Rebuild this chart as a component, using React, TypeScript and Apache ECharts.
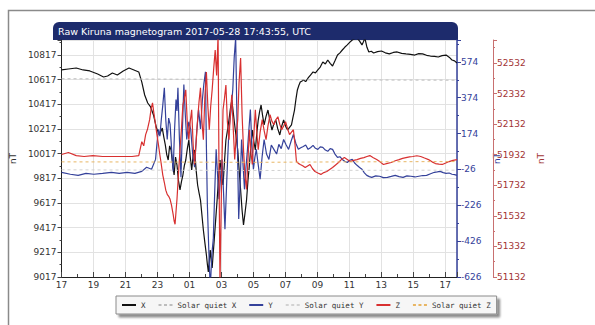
import React, { useEffect, useRef } from "react";
import * as echarts from "echarts";

// time in hours after 2017-05-27 17:00 UTC
const title = "Raw Kiruna magnetogram 2017-05-28 17:43:55, UTC";
const xAxisMaxHours = 24.732;
const startHour = 17;

const leftRange = { min: 9017, max: 10939 };
const yRange = { min: -626, max: 696 };
const zRange = { min: 51132, max: 52682 };

const seriesX: [number, number][] = [
  [0, 10696], [0.43, 10704], [0.92, 10712], [1.35, 10696], [1.77, 10688], [2.26, 10663], [2.63, 10639],
  [2.88, 10647], [3.18, 10671], [3.49, 10655], [3.86, 10688], [4.22, 10712], [4.53, 10696], [4.83, 10680],
  [5.02, 10598], [5.2, 10493], [5.39, 10428], [5.57, 10396], [5.75, 10331], [5.94, 10225], [6.12, 10169],
  [6.3, 10225], [6.4, 10150], [6.49, 10088], [6.58, 10010], [6.67, 9966], [6.76, 10080], [6.85, 10047],
  [6.95, 9930], [7.04, 9844], [7.13, 9990], [7.22, 9925], [7.31, 9800], [7.41, 9723], [7.5, 9790],
  [7.59, 9844], [7.68, 9920], [7.77, 9966], [7.87, 10060], [7.96, 10128], [8.05, 9990], [8.14, 9885],
  [8.23, 10000], [8.32, 10047], [8.42, 9880], [8.51, 9763], [8.6, 9700], [8.69, 9641], [8.78, 9520],
  [8.87, 9398], [8.96, 9300], [9.06, 9195], [9.12, 9120], [9.18, 9058], [9.24, 9150], [9.3, 9236],
  [9.36, 9150], [9.42, 9090], [9.48, 9200], [9.55, 9317], [9.64, 9480], [9.73, 9641], [9.82, 9820],
  [9.91, 9966], [10.0, 9850], [10.1, 9763], [10.19, 9950], [10.28, 10128], [10.37, 10200], [10.47, 10290],
  [10.56, 10380], [10.65, 10452], [10.74, 10350], [10.83, 10250], [10.92, 10150], [11.02, 10047], [11.11, 9880],
  [11.2, 9723], [11.29, 9560], [11.38, 9439], [11.47, 9530], [11.57, 9641], [11.66, 9800], [11.75, 9925],
  [11.84, 10080], [11.93, 10209], [12.02, 10120], [12.12, 10047], [12.21, 10180], [12.3, 10290], [12.39, 10360],
  [12.48, 10412], [12.57, 10330], [12.67, 10250], [12.79, 10320], [12.91, 10371], [13.04, 10280], [13.16, 10209],
  [13.28, 10260], [13.4, 10290], [13.52, 10220], [13.65, 10169], [13.77, 10240], [13.89, 10290], [14.01, 10240],
  [14.14, 10209], [14.26, 10230], [14.38, 10250], [14.47, 10310], [14.57, 10371], [14.66, 10460], [14.75, 10534],
  [14.84, 10570], [14.93, 10598], [15.02, 10605], [15.12, 10615], [15.27, 10602], [15.42, 10631], [15.57, 10655],
  [15.73, 10680], [15.88, 10672], [16.03, 10696], [16.18, 10720], [16.34, 10761], [16.5, 10745], [16.65, 10777],
  [16.8, 10750], [16.95, 10728], [17.1, 10770], [17.26, 10817], [17.41, 10835], [17.56, 10858], [17.71, 10880],
  [17.87, 10899], [18.02, 10920], [18.18, 10939], [18.33, 10950], [18.48, 10955], [18.64, 10930], [18.79, 10899],
  [18.88, 10925], [18.97, 10955], [19.1, 10880], [19.22, 10842], [19.37, 10848], [19.52, 10834], [19.76, 10845],
  [20.01, 10850], [20.25, 10835], [20.5, 10826], [20.75, 10838], [20.99, 10842], [21.27, 10830], [21.54, 10826],
  [21.82, 10822], [22.09, 10817], [22.34, 10828], [22.58, 10826], [22.83, 10815], [23.07, 10809], [23.32, 10806],
  [23.56, 10801], [23.8, 10812], [24.05, 10817], [24.24, 10800], [24.42, 10777], [24.58, 10770], [24.73, 10753],
];

const seriesY: [number, number][] = [
  [0, -42], [0.55, -53], [1.04, -59], [1.53, -48], [2.02, -53], [2.57, -48], [3.12, -42], [3.61, -48],
  [4.1, -42], [4.59, -48], [5.02, -37], [5.32, -14], [5.63, -25], [5.88, 30], [5.97, 120], [6.06, 197],
  [6.15, 160], [6.24, 252], [6.33, 330], [6.43, 430], [6.52, 250], [6.61, 141], [6.7, 260], [6.79, 225],
  [6.88, 90], [6.98, -37], [7.07, 200], [7.16, 364], [7.22, 300], [7.28, 430], [7.37, 150], [7.47, -70],
  [7.56, 200], [7.65, 447], [7.74, 280], [7.83, 141], [7.96, 240], [8.08, 197], [8.2, 60], [8.32, -14],
  [8.45, 180], [8.57, 308], [8.69, 200], [8.81, 364], [8.9, 450], [9.0, 519], [9.06, 100], [9.12, -220],
  [9.2, -450], [9.3, -693], [9.4, -500], [9.49, -415], [9.58, -150], [9.67, 86], [9.76, -60], [9.85, -192],
  [9.95, -60], [10.04, 30], [10.13, -150], [10.22, -359], [10.35, -50], [10.47, 197], [10.6, 300], [10.71, 419],
  [10.8, 600], [10.89, 708], [10.98, 200], [11.08, -303], [11.17, -100], [11.26, 141], [11.35, 0], [11.44, -137],
  [11.53, -20], [11.63, 86], [11.72, 200], [11.81, 308], [11.9, 120], [12.0, -25], [12.09, 40], [12.18, 86],
  [12.3, 0], [12.42, -81], [12.55, 50], [12.67, 141], [12.82, 60], [12.97, 30], [13.12, 110], [13.28, 86],
  [13.45, 60], [13.59, 114], [13.74, 90], [13.89, 141], [14.05, 110], [14.2, 86], [14.35, 130], [14.5, 169],
  [14.65, 120], [14.81, 86], [14.96, 95], [15.12, 102], [15.27, 110], [15.42, 86], [15.57, 95], [15.73, 108],
  [15.88, 92], [16.03, 86], [16.18, 100], [16.34, 97], [16.5, 82], [16.65, 75], [16.8, 90], [16.95, 86],
  [17.1, 60], [17.26, 41], [17.41, 45], [17.56, 30], [17.71, 20], [17.87, 13], [18.02, 25], [18.18, 30],
  [18.33, 10], [18.48, -3], [18.64, -15], [18.79, -25], [18.94, -45], [19.09, -59], [19.25, -66], [19.4, -70],
  [19.65, -62], [19.89, -64], [20.13, -72], [20.38, -70], [20.62, -65], [20.87, -59], [21.11, -66], [21.36, -70],
  [21.6, -62], [21.85, -64], [22.1, -68], [22.34, -64], [22.59, -60], [22.83, -59], [23.08, -50], [23.32, -42],
  [23.5, -40], [23.68, -37], [23.87, -44], [24.05, -48], [24.24, -46], [24.42, -53], [24.58, -55], [24.73, -59],
];

const seriesZ: [number, number][] = [
  [0, 51933], [0.43, 51946], [0.92, 51926], [1.41, 51920], [1.96, 51926], [2.57, 51920], [3.18, 51920],
  [3.79, 51920], [4.41, 51920], [4.83, 51926], [5.02, 52017], [5.14, 51990], [5.26, 52063], [5.38, 52100],
  [5.51, 52161], [5.6, 52230], [5.69, 52271], [5.78, 52200], [5.88, 52128], [5.97, 52060], [6.06, 51998],
  [6.15, 51930], [6.24, 51868], [6.33, 51800], [6.43, 51750], [6.52, 51700], [6.61, 51672], [6.7, 51660],
  [6.79, 51640], [6.88, 51600], [6.98, 51542], [7.04, 51500], [7.1, 51477], [7.16, 51560], [7.22, 51640],
  [7.31, 51800], [7.41, 51965], [7.5, 52100], [7.59, 52258], [7.68, 52300], [7.77, 52356], [7.86, 52150],
  [7.96, 52030], [8.05, 52150], [8.14, 52226], [8.23, 52000], [8.32, 51868], [8.42, 52020], [8.51, 52161],
  [8.6, 52280], [8.69, 52369], [8.78, 52150], [8.87, 52030], [8.96, 52300], [9.06, 52473], [9.15, 52250],
  [9.24, 52095], [9.33, 52250], [9.42, 52356], [9.52, 52500], [9.61, 52616], [9.7, 52450], [9.79, 52714],
  [9.85, 51800], [9.91, 51086], [10.0, 51700], [10.1, 52226], [10.19, 52300], [10.28, 52388], [10.37, 52150],
  [10.47, 52030], [10.56, 52200], [10.65, 52323], [10.74, 52100], [10.83, 51900], [10.92, 52050], [11.02, 52161],
  [11.1, 52400], [11.2, 52564], [11.29, 52200], [11.38, 51965], [11.47, 51800], [11.57, 51705], [11.66, 51900],
  [11.75, 52095], [11.84, 51950], [11.93, 51868], [12.02, 52050], [12.12, 52226], [12.21, 52080], [12.3, 51965],
  [12.42, 52080], [12.55, 52161], [12.67, 52090], [12.79, 52030], [12.91, 52120], [13.04, 52193], [13.16, 52150],
  [13.28, 52128], [13.4, 52160], [13.53, 52180], [13.65, 52130], [13.77, 52095], [13.89, 52120], [14.01, 52148],
  [14.14, 52100], [14.26, 52063], [14.38, 52080], [14.5, 52095], [14.6, 52000], [14.69, 51887], [14.81, 51875],
  [14.93, 51868], [15.08, 51860], [15.24, 51848], [15.39, 51858], [15.54, 51868], [15.7, 51840], [15.85, 51822],
  [16.03, 51812], [16.22, 51803], [16.4, 51815], [16.59, 51822], [16.77, 51835], [16.95, 51848], [17.14, 51865],
  [17.32, 51881], [17.5, 51900], [17.69, 51913], [17.87, 51900], [18.05, 51887], [18.27, 51895], [18.48, 51900],
  [18.7, 51908], [18.91, 51913], [19.1, 51920], [19.28, 51926], [19.5, 51912], [19.71, 51900], [19.92, 51885],
  [20.13, 51868], [20.38, 51875], [20.62, 51881], [20.87, 51892], [21.11, 51900], [21.33, 51908], [21.54, 51913],
  [21.76, 51918], [21.97, 51920], [22.22, 51925], [22.46, 51920], [22.7, 51910], [22.95, 51900], [23.17, 51885],
  [23.38, 51874], [23.6, 51870], [23.81, 51868], [24.03, 51878], [24.24, 51887], [24.48, 51895], [24.73, 51900],
];

const solarQuietX: [number, number][] = [[0, 10625], [6, 10622], [12, 10618], [18, 10615], [24.73, 10613]];
const solarQuietY: [number, number][] = [[0, -28], [6, -30], [12, -32], [18, -31], [24.73, -30]];
const solarQuietZ: [number, number][] = [[0, 51885], [6, 51884], [12, 51882], [18, 51885], [24.73, 51887]];

const legendNames = ["X", "Solar quiet X", "Y", "Solar quiet Y", "Z", "Solar quiet Z"];

const FONT = "DejaVu Sans";
const MONO = "DejaVu Sans Mono";
const BLUE = "#34419a";
const RED = "#d83030";
const DARKRED = "#a23434";
const SOLID_ICON = "path://M0,0h14v2h-14z";
const DASH_ICON = "path://M0,0h3v2h-3z M5.5,0h3v2h-3z M11,0h3v2h-3z";

export default function App() {
  const ref = useRef<HTMLDivElement>(null);
  useEffect(() => {
    if (!ref.current) return;
    const chart = echarts.init(ref.current, null, { renderer: "svg" });
    const labelBase = { fontFamily: FONT, fontSize: 9 };
    const plain = (v: number) => String(v);
    chart.setOption({
      animation: false,
      backgroundColor: "#fff",
      graphic: [
        {
          type: "rect",
          shape: { x: 8.5, y: 10.5, width: 620, height: 340 },
          style: { fill: "none", stroke: "#8a8a8a", lineWidth: 1.5 },
          silent: true,
        },
        {
          type: "rect",
          shape: { x: 53, y: 22, width: 405, height: 18, r: [6, 6, 0, 0] },
          style: { fill: "#1d2b6c" },
          silent: true,
        },
        {
          type: "text",
          x: 58,
          y: 31,
          style: {
            text: title,
            fill: "#ffffff",
            font: `9.5px "${FONT}"`,
            verticalAlign: "middle",
          },
          silent: true,
        },
      ],
      legend: {
        left: 116,
        top: 296,
        padding: [5, 6],
        itemWidth: 14,
        itemHeight: 2,
        itemGap: 13,
        backgroundColor: "#f6f6f6",
        borderColor: "#8a8a8a",
        borderWidth: 1,
        shadowColor: "rgba(0,0,0,0.45)",
        shadowBlur: 2,
        shadowOffsetX: 3,
        shadowOffsetY: 3,
        textStyle: { fontFamily: MONO, fontSize: 7.5, color: "#333" },
        data: legendNames.map((n) => ({ name: n, icon: n.startsWith("Solar") ? DASH_ICON : SOLID_ICON })),
      },
      grid: { left: 53, top: 40, right: 138, bottom: 48, containLabel: false },
      xAxis: {
        type: "value",
        min: 0,
        max: xAxisMaxHours,
        interval: 2,
        axisLine: { onZero: false, lineStyle: { color: "#222" } },
        axisTick: { inside: true, length: 5, lineStyle: { color: "#444" } },
        minorTick: { show: true, splitNumber: 2, length: 3, lineStyle: { color: "#444" } },
        axisLabel: {
          ...labelBase,
          color: "#333",
          margin: 3,
          showMaxLabel: false,
          formatter: (v: number) => String((startHour + Math.round(v)) % 24).padStart(2, "0"),
        },
        splitLine: { show: true, lineStyle: { color: "#e2e2e2", width: 1 } },
      },
      yAxis: [
        {
          type: "value",
          position: "left",
          min: leftRange.min,
          max: leftRange.max,
          interval: 200,
          name: "nT",
          nameLocation: "middle",
          nameGap: 33,
          nameTextStyle: { ...labelBase, color: "#333" },
          axisLine: { show: true, onZero: false, lineStyle: { color: "#222" } },
          axisTick: { show: true, length: 4, lineStyle: { color: "#444" } },
          minorTick: { show: true, splitNumber: 2, length: 2, lineStyle: { color: "#444" } },
          axisLabel: { ...labelBase, color: "#333", margin: 5, showMaxLabel: false, formatter: plain },
          splitLine: { show: true, lineStyle: { color: "#e2e2e2", width: 1 } },
        },
        {
          type: "value",
          position: "right",
          offset: 0,
          min: yRange.min,
          max: yRange.max,
          interval: 200,
          name: "nT",
          nameLocation: "middle",
          nameGap: 28,
          nameRotate: 90,
          nameTextStyle: { ...labelBase, color: BLUE },
          axisLine: { show: true, onZero: false, lineStyle: { color: BLUE, width: 1.5 } },
          axisTick: { show: true, length: 4, lineStyle: { color: BLUE } },
          minorTick: { show: true, splitNumber: 2, length: 2, lineStyle: { color: BLUE } },
          axisLabel: { ...labelBase, color: BLUE, margin: 4, showMaxLabel: false, formatter: plain },
          splitLine: { show: false },
        },
        {
          type: "value",
          position: "right",
          offset: 36,
          min: zRange.min,
          max: zRange.max,
          interval: 200,
          name: "nT",
          nameLocation: "middle",
          nameGap: 31,
          nameRotate: 90,
          nameTextStyle: { ...labelBase, color: DARKRED },
          axisLine: { show: true, onZero: false, lineStyle: { color: "#c87070" } },
          axisTick: { show: true, length: 4, lineStyle: { color: "#c87070" } },
          minorTick: { show: true, splitNumber: 2, length: 2, lineStyle: { color: "#c87070" } },
          axisLabel: { ...labelBase, color: DARKRED, margin: 4, showMaxLabel: false, formatter: plain },
          splitLine: { show: false },
        },
      ],
      series: [
        {
          name: "X", type: "line", yAxisIndex: 0, data: seriesX, symbol: "none",
          lineStyle: { color: "#111", width: 1.2 }, itemStyle: { color: "#111" },
        },
        {
          name: "Solar quiet X", type: "line", yAxisIndex: 0, data: solarQuietX, symbol: "none",
          lineStyle: { color: "#bdbdbd", width: 1, type: [3, 3] }, itemStyle: { color: "#bdbdbd" },
        },
        {
          name: "Y", type: "line", yAxisIndex: 1, data: seriesY, symbol: "none",
          lineStyle: { color: BLUE, width: 1.2 }, itemStyle: { color: BLUE },
        },
        {
          name: "Solar quiet Y", type: "line", yAxisIndex: 1, data: solarQuietY, symbol: "none",
          lineStyle: { color: "#d2d2d2", width: 1, type: [3, 3] }, itemStyle: { color: "#d2d2d2" },
        },
        {
          name: "Z", type: "line", yAxisIndex: 2, data: seriesZ, symbol: "none",
          lineStyle: { color: RED, width: 1.2 }, itemStyle: { color: RED },
        },
        {
          name: "Solar quiet Z", type: "line", yAxisIndex: 2, data: solarQuietZ, symbol: "none",
          lineStyle: { color: "#e8b664", width: 1, type: [3, 3] }, itemStyle: { color: "#e8b664" },
        },
      ],
    });
    return () => chart.dispose();
  }, []);
  return (
    <div
      ref={ref}
      style={{ position: "fixed", left: 0, top: 0, width: 595, height: 325 }}
    />
  );
}
